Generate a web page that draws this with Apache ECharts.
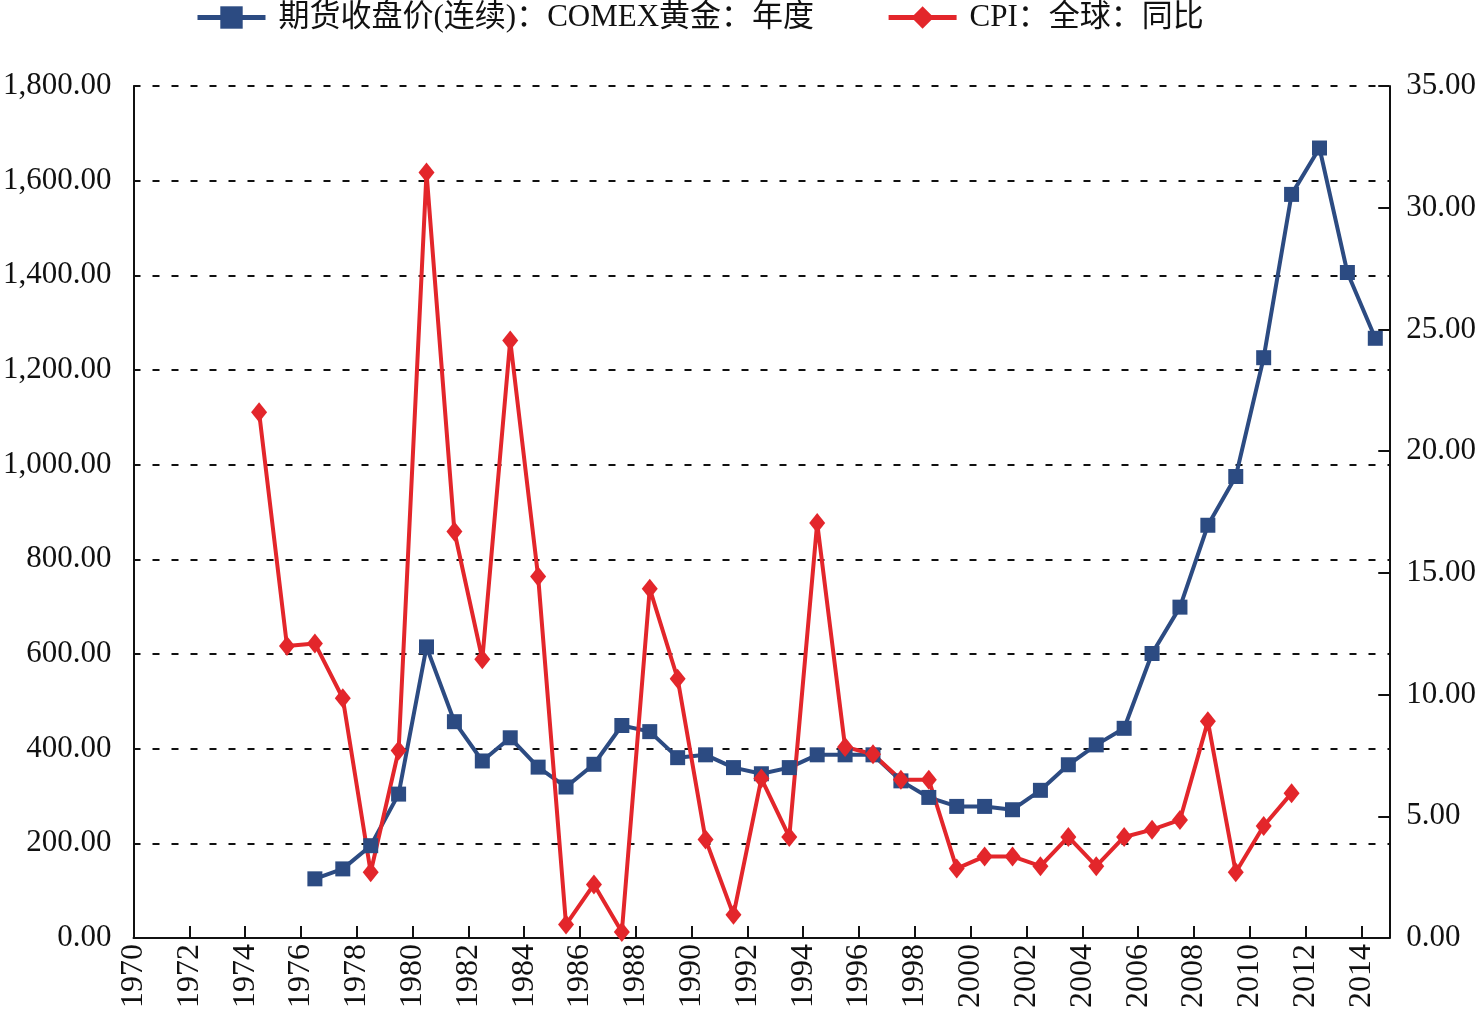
<!DOCTYPE html>
<html>
<head>
<meta charset="utf-8">
<script src="https://cdn.jsdelivr.net/npm/echarts@6/dist/echarts.min.js"></script>
<style>
  html, body { margin: 0; padding: 0; background: #fff; }
  #charts { width: 1479px; height: 1015px; }
</style>
</head>
<body>
<div id="charts"></div>
<script>
// 期货收盘价(连续)：COMEX黄金：年度，1976-2014
var goldYears = [1976, 1977, 1978, 1979, 1980, 1981, 1982, 1983, 1984, 1985,
    1986, 1987, 1988, 1989, 1990, 1991, 1992, 1993, 1994, 1995,
    1996, 1997, 1998, 1999, 2000, 2001, 2002, 2003, 2004, 2005,
    2006, 2007, 2008, 2009, 2010, 2011, 2012, 2013, 2014];
var goldValues = [125, 146, 195, 304, 615, 457, 374, 423, 361, 319,
    367, 449, 436, 381, 387, 360, 347, 360, 387, 387,
    387, 332, 297, 278, 278, 271, 312, 366, 408, 443,
    601, 699, 872, 975, 1226, 1571, 1669, 1406, 1267];

// CPI：全球：同比，1974-2011
var cpiYears = [1974, 1975, 1976, 1977, 1978, 1979, 1980, 1981, 1982, 1983,
    1984, 1985, 1986, 1987, 1988, 1989, 1990, 1991, 1992, 1993,
    1994, 1995, 1996, 1997, 1998, 1999, 2000, 2001, 2002, 2003,
    2004, 2005, 2006, 2007, 2008, 2009, 2010, 2011];
var cpiValues = [21.6, 12.0, 12.1, 9.85, 2.7, 7.7, 31.45, 16.7, 11.45, 24.55,
    14.85, 0.55, 2.2, 0.25, 14.35, 10.65, 4.05, 0.95, 6.55, 4.15,
    17.05, 7.85, 7.55, 6.5, 6.5, 2.85, 3.35, 3.35, 2.95, 4.15,
    2.95, 4.15, 4.45, 4.85, 8.9, 2.7, 4.6, 5.95];

var legendNames = ['期货收盘价(连续)：COMEX黄金：年度', 'CPI：全球：同比'];

var FONT = '"Liberation Serif", "Noto Sans CJK SC", serif';
var BLUE = '#2C4B82';
var RED = '#E3262B';

// 每年的点画在该年区间的中间
function toPairs(years, values) {
    var res = [];
    for (var i = 0; i < years.length; i++) {
        res.push([years[i] + 0.5, values[i]]);
    }
    return res;
}

function showChart() {
    var myChart = echarts.init(document.getElementById('charts'));
    myChart.setOption({
        backgroundColor: '#fff',
        animation: false,
        legend: {
            data: legendNames,
            left: 195,
            top: 2,
            padding: 0,
            itemWidth: 68,
            itemHeight: 28,
            itemGap: 72,
            lineStyle: {width: 5},
            textStyle: {
                fontFamily: FONT,
                fontSize: 31,
                color: '#111',
                padding: [0, 0, 0, 8]
            }
        },
        grid: {
            left: 131,
            right: 88,
            top: 86,
            bottom: 77
        },
        xAxis: {
            type: 'value',
            min: 1970,
            max: 2015,
            interval: 2,
            axisLine: {show: true, onZero: false, lineStyle: {color: '#111', width: 2}},
            axisTick: {show: true, inside: true, length: 12, lineStyle: {color: '#111', width: 2}},
            splitLine: {show: false},
            axisLabel: {
                rotate: 90,
                margin: 6,
                fontFamily: FONT,
                fontSize: 32,
                color: '#111',
                showMaxLabel: false,
                formatter: function (v) {
                    return v % 2 === 0 ? String(v) : '';
                }
            }
        },
        yAxis: [
            {
                type: 'value',
                min: 0,
                max: 1800,
                interval: 200,
                axisLine: {show: true, lineStyle: {color: '#111', width: 2}},
                axisTick: {show: false},
                splitLine: {
                    show: true,
                    lineStyle: {color: '#111', width: 2, type: [7, 12]}
                },
                axisLabel: {
                    margin: 22,
                    fontFamily: FONT,
                    fontSize: 31,
                    color: '#111',
                    formatter: function (v) {
                        return v.toLocaleString('en-US', {minimumFractionDigits: 2, maximumFractionDigits: 2});
                    }
                }
            },
            {
                type: 'value',
                min: 0,
                max: 35,
                interval: 5,
                position: 'right',
                axisLine: {show: true, lineStyle: {color: '#111', width: 2}},
                axisTick: {show: true, inside: true, length: 11, lineStyle: {color: '#111', width: 2}},
                splitLine: {show: false},
                axisLabel: {
                    margin: 17,
                    fontFamily: FONT,
                    fontSize: 31,
                    color: '#111',
                    formatter: function (v) {
                        return v.toFixed(2);
                    }
                }
            }
        ],
        series: [
            {
                name: legendNames[0],
                type: 'line',
                yAxisIndex: 0,
                data: toPairs(goldYears, goldValues),
                symbol: 'rect',
                symbolSize: 15,
                lineStyle: {color: BLUE, width: 4},
                itemStyle: {color: BLUE}
            },
            {
                name: legendNames[1],
                type: 'line',
                yAxisIndex: 1,
                data: toPairs(cpiYears, cpiValues),
                symbol: 'diamond',
                symbolSize: [16, 20],
                lineStyle: {color: RED, width: 4},
                itemStyle: {color: RED}
            }
        ]
    });
}

showChart();
</script>
</body>
</html>
